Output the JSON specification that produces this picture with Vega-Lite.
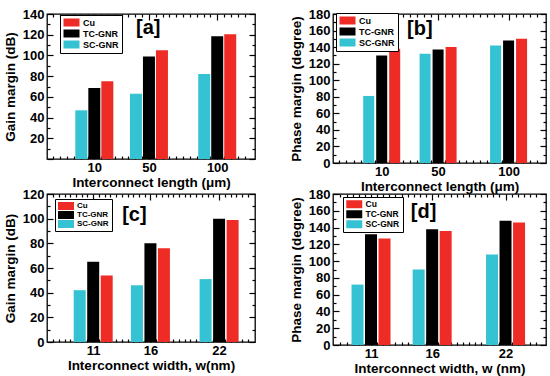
{
  "$schema": "https://vega.github.io/schema/vega-lite/v6.json",
  "padding": {"left": 2, "top": 7, "right": 0, "bottom": 0},
  "datasets": {
    "bars": [
      {"panel": "a", "x": 10, "series": "SC-GNR", "value": 47},
      {"panel": "a", "x": 10, "series": "TC-GNR", "value": 68.5},
      {"panel": "a", "x": 10, "series": "Cu", "value": 75},
      {"panel": "a", "x": 50, "series": "SC-GNR", "value": 63},
      {"panel": "a", "x": 50, "series": "TC-GNR", "value": 99},
      {"panel": "a", "x": 50, "series": "Cu", "value": 105},
      {"panel": "a", "x": 100, "series": "SC-GNR", "value": 82},
      {"panel": "a", "x": 100, "series": "TC-GNR", "value": 118.5},
      {"panel": "a", "x": 100, "series": "Cu", "value": 120.5},
      {"panel": "b", "x": 10, "series": "SC-GNR", "value": 81},
      {"panel": "b", "x": 10, "series": "TC-GNR", "value": 130},
      {"panel": "b", "x": 10, "series": "Cu", "value": 138},
      {"panel": "b", "x": 50, "series": "SC-GNR", "value": 132},
      {"panel": "b", "x": 50, "series": "TC-GNR", "value": 137},
      {"panel": "b", "x": 50, "series": "Cu", "value": 140},
      {"panel": "b", "x": 100, "series": "SC-GNR", "value": 142},
      {"panel": "b", "x": 100, "series": "TC-GNR", "value": 148},
      {"panel": "b", "x": 100, "series": "Cu", "value": 150},
      {"panel": "c", "x": 11, "series": "SC-GNR", "value": 42},
      {"panel": "c", "x": 11, "series": "TC-GNR", "value": 65},
      {"panel": "c", "x": 11, "series": "Cu", "value": 54},
      {"panel": "c", "x": 16, "series": "SC-GNR", "value": 46},
      {"panel": "c", "x": 16, "series": "TC-GNR", "value": 80},
      {"panel": "c", "x": 16, "series": "Cu", "value": 76},
      {"panel": "c", "x": 22, "series": "SC-GNR", "value": 51},
      {"panel": "c", "x": 22, "series": "TC-GNR", "value": 100},
      {"panel": "c", "x": 22, "series": "Cu", "value": 99},
      {"panel": "d", "x": 11, "series": "SC-GNR", "value": 72},
      {"panel": "d", "x": 11, "series": "TC-GNR", "value": 132},
      {"panel": "d", "x": 11, "series": "Cu", "value": 127},
      {"panel": "d", "x": 16, "series": "SC-GNR", "value": 90},
      {"panel": "d", "x": 16, "series": "TC-GNR", "value": 138},
      {"panel": "d", "x": 16, "series": "Cu", "value": 136},
      {"panel": "d", "x": 22, "series": "SC-GNR", "value": 108},
      {"panel": "d", "x": 22, "series": "TC-GNR", "value": 148},
      {"panel": "d", "x": 22, "series": "Cu", "value": 146}
    ]
  },
  "columns": 2,
  "spacing": {"row": -14, "column": 31},
  "resolve": {
    "scale": {"x": "independent", "y": "independent", "color": "independent"},
    "legend": {"color": "independent"}
  },
  "concat": [
    {
      "width": 208, "height": 145,
      "layer": [
        {
          "data": {"name": "bars"},
          "transform": [{"filter": "datum.panel === 'a'"}],
          "encoding": {
            "x": {"field": "x", "type": "quantitative",
              "scale": {"domain": [-21, 124], "nice": false, "zero": false},
              "axis": {"title": "Interconnect length (μm)",
                "values": [-20,-15,-10,-5,0,5,10,15,20,25,30,35,40,45,50,55,60,65,70,75,80,85,90,95,100,105,110,115,120],
                "labelExpr": "indexof([10,50,100], datum.value) >= 0 ? datum.label : ''",
                "tickDash": {"condition": {"test": "indexof([10,50,100], datum.value) >= 0", "value": [6, 0]}, "value": [3, 20]},
                "labelPadding": 8, "titlePadding": 1}},
            "y": {"field": "value", "type": "quantitative",
              "scale": {"domain": [0, 140], "nice": false},
              "axis": {"title": "Gain margin (dB)",
                "values": [0,10,20,30,40,50,60,70,80,90,100,110,120,130,140],
                "labelExpr": "datum.value % 20 === 0 && datum.value > 0 ? datum.label : ''",
                "tickDash": {"condition": {"test": "datum.value % 20 === 0", "value": [6, 0]}, "value": [3, 20]},
                "labelPadding": 9, "titlePadding": 5}},
            "color": {"field": "series", "type": "nominal",
              "scale": {"domain": ["Cu", "TC-GNR", "SC-GNR"], "range": ["#ee2b25", "#000000", "#35c2d3"]},
              "legend": {"orient": "none", "legendX": 13, "legendY": 1, "labelFontSize": 9}}
          },
          "layer": [
            {"transform": [{"filter": "datum.series === 'SC-GNR'"}], "mark": {"type": "bar", "orient": "vertical", "width": 12, "xOffset": -13}},
            {"transform": [{"filter": "datum.series === 'TC-GNR'"}], "mark": {"type": "bar", "orient": "vertical", "width": 12, "xOffset": 0}},
            {"transform": [{"filter": "datum.series === 'Cu'"}], "mark": {"type": "bar", "orient": "vertical", "width": 12, "xOffset": 13}}
          ]
        },
        {
          "data": {"values": [{"label": "[a]"}]},
          "mark": {"type": "text", "fontSize": 20, "fontWeight": "bold", "baseline": "middle", "align": "center"},
          "encoding": {
            "x": {"datum": 49.5, "type": "quantitative",
              "axis": {"orient": "top", "labels": false, "title": null,
                "values": [-20,-15,-10,-5,0,5,10,15,20,25,30,35,40,45,50,55,60,65,70,75,80,85,90,95,100,105,110,115,120],
                "tickDash": {"condition": {"test": "indexof([10,50,100], datum.value) >= 0", "value": [6, 0]}, "value": [3, 20]}}},
            "y": {"datum": 126.5, "type": "quantitative",
              "axis": {"orient": "right", "labels": false, "title": null,
                "values": [0,10,20,30,40,50,60,70,80,90,100,110,120,130,140],
                "tickDash": {"condition": {"test": "datum.value % 20 === 0", "value": [6, 0]}, "value": [3, 20]}}},
            "text": {"field": "label"}
          }
        }
      ],
      "resolve": {"axis": {"x": "independent", "y": "independent"}}
    },
    {
      "width": 213, "height": 149,
      "layer": [
        {
          "data": {"name": "bars"},
          "transform": [{"filter": "datum.panel === 'b'"}],
          "encoding": {
            "x": {"field": "x", "type": "quantitative",
              "scale": {"domain": [-21, 123], "nice": false, "zero": false},
              "axis": {"title": "Interconnect length (μm)",
                "values": [-20,-15,-10,-5,0,5,10,15,20,25,30,35,40,45,50,55,60,65,70,75,80,85,90,95,100,105,110,115,120],
                "labelExpr": "indexof([10,50,100], datum.value) >= 0 ? datum.label : ''",
                "tickDash": {"condition": {"test": "indexof([10,50,100], datum.value) >= 0", "value": [6, 0]}, "value": [3, 20]},
                "labelPadding": 8, "titlePadding": 1}},
            "y": {"field": "value", "type": "quantitative",
              "scale": {"domain": [0, 180], "nice": false},
              "axis": {"title": "Phase margin (degree)",
                "values": [0,10,20,30,40,50,60,70,80,90,100,110,120,130,140,150,160,170,180],
                "labelExpr": "datum.value % 20 === 0 ? datum.label : ''",
                "tickDash": {"condition": {"test": "datum.value % 20 === 0", "value": [6, 0]}, "value": [3, 20]},
                "labelPadding": 9, "titlePadding": 5}},
            "color": {"field": "series", "type": "nominal",
              "scale": {"domain": ["Cu", "TC-GNR", "SC-GNR"], "range": ["#ee2b25", "#000000", "#35c2d3"]},
              "legend": {"orient": "none", "legendX": 3, "legendY": -1, "labelFontSize": 9}}
          },
          "layer": [
            {"transform": [{"filter": "datum.series === 'SC-GNR'"}], "mark": {"type": "bar", "orient": "vertical", "width": 11, "xOffset": -13}},
            {"transform": [{"filter": "datum.series === 'TC-GNR'"}], "mark": {"type": "bar", "orient": "vertical", "width": 11, "xOffset": 0}},
            {"transform": [{"filter": "datum.series === 'Cu'"}], "mark": {"type": "bar", "orient": "vertical", "width": 11, "xOffset": 13}}
          ]
        },
        {
          "data": {"values": [{"label": "[b]"}]},
          "mark": {"type": "text", "fontSize": 20, "fontWeight": "bold", "baseline": "middle", "align": "center"},
          "encoding": {
            "x": {"datum": 37, "type": "quantitative",
              "axis": {"orient": "top", "labels": false, "title": null,
                "values": [-20,-15,-10,-5,0,5,10,15,20,25,30,35,40,45,50,55,60,65,70,75,80,85,90,95,100,105,110,115,120],
                "tickDash": {"condition": {"test": "indexof([10,50,100], datum.value) >= 0", "value": [6, 0]}, "value": [3, 20]}}},
            "y": {"datum": 162, "type": "quantitative",
              "axis": {"orient": "right", "labels": false, "title": null,
                "values": [0,10,20,30,40,50,60,70,80,90,100,110,120,130,140,150,160,170,180],
                "tickDash": {"condition": {"test": "datum.value % 20 === 0", "value": [6, 0]}, "value": [3, 20]}}},
            "text": {"field": "label"}
          }
        }
      ],
      "resolve": {"axis": {"x": "independent", "y": "independent"}}
    },
    {
      "width": 208, "height": 148,
      "layer": [
        {
          "data": {"name": "bars"},
          "transform": [{"filter": "datum.panel === 'c'"}],
          "encoding": {
            "x": {"field": "x", "type": "quantitative",
              "scale": {"domain": [7.4, 24.7], "nice": false, "zero": false},
              "axis": {"title": "Interconnect width, w(nm)",
                "values": [7.5,8,8.5,9,9.5,10,10.5,11,11.5,12,12.5,13,13.5,14,14.5,15,15.5,16,16.5,17,17.5,18,18.5,19,19.5,20,20.5,21,21.5,22,22.5,23,23.5,24,24.5],
                "labelExpr": "indexof([11,16,22], datum.value) >= 0 ? format(datum.value, 'd') : ''",
                "tickDash": {"condition": {"test": "indexof([11,16,22], datum.value) >= 0", "value": [6, 0]}, "value": [3, 20]},
                "labelPadding": 8, "titlePadding": 1}},
            "y": {"field": "value", "type": "quantitative",
              "scale": {"domain": [0, 120], "nice": false},
              "axis": {"title": "Gain margin (dB)",
                "values": [0,10,20,30,40,50,60,70,80,90,100,110,120],
                "labelExpr": "datum.value % 20 === 0 ? datum.label : ''",
                "tickDash": {"condition": {"test": "datum.value % 20 === 0", "value": [6, 0]}, "value": [3, 20]},
                "labelPadding": 9, "titlePadding": 5}},
            "color": {"field": "series", "type": "nominal",
              "scale": {"domain": ["Cu", "TC-GNR", "SC-GNR"], "range": ["#ee2b25", "#000000", "#35c2d3"]},
              "legend": {"orient": "none", "legendX": 8, "legendY": 5, "labelFontSize": 8}}
          },
          "layer": [
            {"transform": [{"filter": "datum.series === 'SC-GNR'"}], "mark": {"type": "bar", "orient": "vertical", "width": 12, "xOffset": -13.5}},
            {"transform": [{"filter": "datum.series === 'TC-GNR'"}], "mark": {"type": "bar", "orient": "vertical", "width": 12, "xOffset": 0}},
            {"transform": [{"filter": "datum.series === 'Cu'"}], "mark": {"type": "bar", "orient": "vertical", "width": 12, "xOffset": 13.5}}
          ]
        },
        {
          "data": {"values": [{"label": "[c]"}]},
          "mark": {"type": "text", "fontSize": 20, "fontWeight": "bold", "baseline": "middle", "align": "center"},
          "encoding": {
            "x": {"datum": 14.6, "type": "quantitative",
              "axis": {"orient": "top", "labels": false, "title": null,
                "values": [7.5,8,8.5,9,9.5,10,10.5,11,11.5,12,12.5,13,13.5,14,14.5,15,15.5,16,16.5,17,17.5,18,18.5,19,19.5,20,20.5,21,21.5,22,22.5,23,23.5,24,24.5],
                "tickDash": {"condition": {"test": "indexof([11,16,22], datum.value) >= 0", "value": [6, 0]}, "value": [3, 20]}}},
            "y": {"datum": 102.6, "type": "quantitative",
              "axis": {"orient": "right", "labels": false, "title": null,
                "values": [0,10,20,30,40,50,60,70,80,90,100,110,120],
                "tickDash": {"condition": {"test": "datum.value % 20 === 0", "value": [6, 0]}, "value": [3, 20]}}},
            "text": {"field": "label"}
          }
        }
      ],
      "resolve": {"axis": {"x": "independent", "y": "independent"}}
    },
    {
      "width": 213, "height": 151,
      "layer": [
        {
          "data": {"name": "bars"},
          "transform": [{"filter": "datum.panel === 'd'"}],
          "encoding": {
            "x": {"field": "x", "type": "quantitative",
              "scale": {"domain": [8.3, 24.9], "nice": false, "zero": false},
              "axis": {"title": "Interconnect width, w (nm)",
                "values": [8.5,9,9.5,10,10.5,11,11.5,12,12.5,13,13.5,14,14.5,15,15.5,16,16.5,17,17.5,18,18.5,19,19.5,20,20.5,21,21.5,22,22.5,23,23.5,24,24.5],
                "labelExpr": "indexof([11,16,22], datum.value) >= 0 ? format(datum.value, 'd') : ''",
                "tickDash": {"condition": {"test": "indexof([11,16,22], datum.value) >= 0", "value": [6, 0]}, "value": [3, 20]},
                "labelPadding": 8, "titlePadding": 1}},
            "y": {"field": "value", "type": "quantitative",
              "scale": {"domain": [0, 180], "nice": false},
              "axis": {"title": "Phase margin (degree)",
                "values": [0,10,20,30,40,50,60,70,80,90,100,110,120,130,140,150,160,170,180],
                "labelExpr": "datum.value % 20 === 0 ? datum.label : ''",
                "tickDash": {"condition": {"test": "datum.value % 20 === 0", "value": [6, 0]}, "value": [3, 20]},
                "labelPadding": 9, "titlePadding": 5}},
            "color": {"field": "series", "type": "nominal",
              "scale": {"domain": ["Cu", "TC-GNR", "SC-GNR"], "range": ["#ee2b25", "#000000", "#35c2d3"]},
              "legend": {"orient": "none", "legendX": 10, "legendY": 3, "labelFontSize": 8.5}}
          },
          "layer": [
            {"transform": [{"filter": "datum.series === 'SC-GNR'"}], "mark": {"type": "bar", "orient": "vertical", "width": 12, "xOffset": -13.5}},
            {"transform": [{"filter": "datum.series === 'TC-GNR'"}], "mark": {"type": "bar", "orient": "vertical", "width": 12, "xOffset": 0}},
            {"transform": [{"filter": "datum.series === 'Cu'"}], "mark": {"type": "bar", "orient": "vertical", "width": 12, "xOffset": 13.5}}
          ]
        },
        {
          "data": {"values": [{"label": "[d]"}]},
          "mark": {"type": "text", "fontSize": 20, "fontWeight": "bold", "baseline": "middle", "align": "center"},
          "encoding": {
            "x": {"datum": 15.3, "type": "quantitative",
              "axis": {"orient": "top", "labels": false, "title": null,
                "values": [8.5,9,9.5,10,10.5,11,11.5,12,12.5,13,13.5,14,14.5,15,15.5,16,16.5,17,17.5,18,18.5,19,19.5,20,20.5,21,21.5,22,22.5,23,23.5,24,24.5],
                "tickDash": {"condition": {"test": "indexof([11,16,22], datum.value) >= 0", "value": [6, 0]}, "value": [3, 20]}}},
            "y": {"datum": 158.5, "type": "quantitative",
              "axis": {"orient": "right", "labels": false, "title": null,
                "values": [0,10,20,30,40,50,60,70,80,90,100,110,120,130,140,150,160,170,180],
                "tickDash": {"condition": {"test": "datum.value % 20 === 0", "value": [6, 0]}, "value": [3, 20]}}},
            "text": {"field": "label"}
          }
        }
      ],
      "resolve": {"axis": {"x": "independent", "y": "independent"}}
    }
  ],
  "config": {
    "font": "Liberation Sans",
    "view": {"stroke": "#000000", "strokeWidth": 1.3},
    "axis": {
      "domain": false, "grid": false, "ticks": true, "tickSize": -6,
      "labelFont": "Liberation Sans", "labelFontWeight": "bold", "labelFontSize": 13, "labelColor": "#000000",
      "titleFont": "Liberation Sans", "titleFontWeight": "bold", "titleFontSize": 13.5, "titleColor": "#000000",
      "tickColor": "#000000", "tickWidth": 1.2, "labelOverlap": false, "labelFlush": false
    },
    "legend": {
      "title": null,
      "strokeColor": "#000000",
      "fillColor": "#ffffff",
      "padding": 3,
      "rowPadding": 1,
      "labelFont": "Liberation Sans", "labelFontWeight": "bold", "labelColor": "#000000",
      "symbolType": "M-1,-1H3V1H-1Z",
      "symbolSize": 64,
      "symbolStrokeWidth": 0,
      "labelOffset": 11
    }
  }
}
